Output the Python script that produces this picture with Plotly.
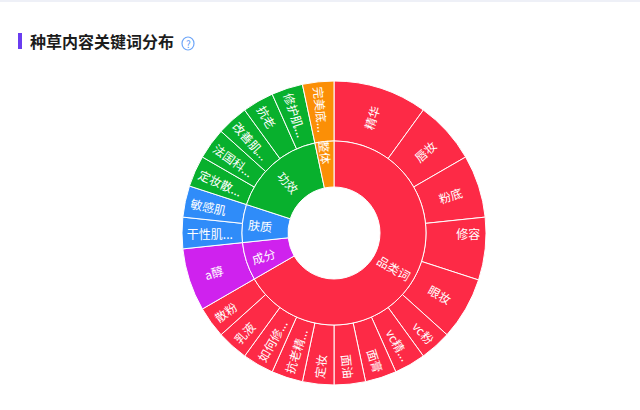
import math
import plotly.graph_objects as go

W = 640
H = 410
CX = 334
CY = 233
R_HOLE = 46
R_MID = 92
R_OUT = 152

# inner ring
group_names = ["品类词", "成分", "肤质", "功效", "整体"]
group_values = [20, 2, 2, 5, 1]
group_colors = ["#fd2a46", "#cf22ee", "#2f8cf9", "#08b02d", "#fb8f06"]

# outer ring, same order as the groups
word_names = ["精华", "唇妆", "粉底", "修容", "眼妆", "vc粉", "vc精...", "面膏", "面油",
              "定妆", "抗老精...", "如何修...", "乳液", "散粉",
              "a醇",
              "干性肌...", "敏感肌",
              "定妆散...", "法国科...", "改善肌...", "抗老", "修护肌...",
              "完美底..."]
word_values = [3, 2, 2, 2, 2, 1, 1, 1, 1, 1, 1, 1, 1, 1, 2, 1, 1, 1, 1, 1, 1, 1, 1]
word_groups = [0] * 14 + [1] + [2] * 2 + [3] * 5 + [4]

title_text = "种草内容关键词分布"
FONT = "Noto Sans CJK SC, Noto Sans, sans-serif"


def domain(r):
    return dict(x=[(CX - r) / W, (CX + r) / W],
                y=[(H - CY - r) / H, (H - CY + r) / H])


# plotly lays the biggest slice's label flat, so that one goes in as an annotation
big_mid = 360 * (group_values[0] / 2) / sum(group_values)
big_r = (R_HOLE + R_MID) / 2
big_x = CX + big_r * math.sin(math.radians(big_mid))
big_y = CY - big_r * math.cos(math.radians(big_mid))

fig = go.Figure()
fig.add_trace(go.Pie(labels=word_names, values=word_values,
                     marker=dict(colors=[group_colors[g] for g in word_groups],
                                 line=dict(color="#ffffff", width=1)),
                     domain=domain(R_OUT), hole=R_MID / R_OUT, sort=False,
                     direction="clockwise", rotation=0, textinfo="label",
                     textposition="inside", insidetextorientation="radial",
                     textfont=dict(color="#ffffff", size=12, family=FONT),
                     hoverinfo="skip", showlegend=False))
fig.add_trace(go.Pie(labels=group_names, values=group_values, text=[""] + group_names[1:],
                     marker=dict(colors=group_colors, line=dict(color="#ffffff", width=1)),
                     domain=domain(R_MID), hole=R_HOLE / R_MID, sort=False,
                     direction="clockwise", rotation=0, textinfo="text",
                     textposition="inside", insidetextorientation="radial",
                     textfont=dict(color="#ffffff", size=12, family=FONT),
                     hoverinfo="skip", showlegend=False))

fig.update_layout(
    width=W, height=H, margin=dict(l=0, r=0, t=0, b=0),
    paper_bgcolor="#ffffff", showlegend=False,
    uniformtext=dict(mode="show", minsize=12),
    shapes=[
        dict(type="rect", xref="paper", yref="paper", x0=0, x1=1, y0=1 - 2 / H, y1=1,
             fillcolor="#eef0f7", line_width=0),
        dict(type="rect", xref="paper", yref="paper", x0=18 / W, x1=22 / W,
             y0=1 - 49 / H, y1=1 - 33 / H, fillcolor="#6a3df0", line_width=0),
        dict(type="circle", xref="paper", yref="paper", x0=182 / W, x1=194 / W,
             y0=1 - 50 / H, y1=1 - 37 / H, line=dict(color="#6ea6f8", width=1.2)),
    ],
    annotations=[
        dict(text="<b>" + title_text + "</b>", xref="paper", yref="paper", x=28 / W, y=1 - 41 / H,
             xanchor="left", yanchor="middle", showarrow=False,
             font=dict(size=16, color="#1c1c1c", family=FONT)),
        dict(text="?", xref="paper", yref="paper", x=188 / W, y=1 - 43.5 / H,
             xanchor="center", yanchor="middle", showarrow=False,
             font=dict(size=10, color="#5f9cf6", family=FONT)),
        dict(text=group_names[0], xref="paper", yref="paper", x=big_x / W, y=1 - big_y / H,
             xanchor="center", yanchor="middle", showarrow=False, textangle=big_mid % 180 - 90,
             font=dict(size=12, color="#ffffff", family=FONT)),
    ],
)

fig.write_html("out.html", config=dict(displayModeBar=False),
               post_script="document.body.style.margin='0';document.body.style.overflow='hidden';")
